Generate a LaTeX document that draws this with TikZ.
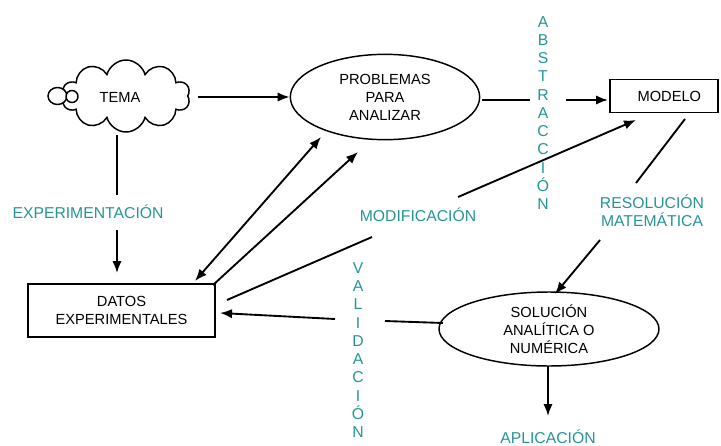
\documentclass[tikz,border=0pt]{standalone}
\usepackage{fontspec}
\setmainfont{Liberation Sans}
\usetikzlibrary{shapes.geometric,shapes.symbols,arrows.meta}
\definecolor{tealtxt}{RGB}{38,148,148}
\begin{document}
\begin{tikzpicture}[x=0.75pt,y=-0.75pt,
  every node/.style={font=\fontsize{11}{13.5}\selectfont,align=center},
  shp/.style={draw,line width=1.1pt},
  conn/.style={line width=1.4pt},
  arr/.style={conn,-{Latex[length=9pt,width=7pt]}},
  darr/.style={conn,{Latex[length=9pt,width=7pt]}-{Latex[length=9pt,width=7pt]}},
  lbl/.style={text=tealtxt,font=\fontsize{11.8}{13.5}\selectfont,inner sep=0pt},
  vlbl/.style={lbl,font=\fontsize{11.8}{13.7}\selectfont}]
\useasboundingbox (0,0) rectangle (721,446);

% nodes
\node[shp,cloud,cloud puffs=10,aspect=1.8,minimum width=96pt,minimum height=54pt] (tema) at (126,96) {};
\node (tematxt) at (120,97) {TEMA};
\draw[shp,fill=white] (57.5,96) ellipse (9.5 and 8.5);
\draw[shp,fill=white] (72,96.5) ellipse (6 and 6);
\node[shp,ellipse,minimum width=142pt,minimum height=64pt,inner sep=0pt] (prob) at (385,97) {PROBLEMAS\\PARA\\ANALIZAR};
\node[shp,rectangle,minimum width=81pt,minimum height=25pt] (modelo) at (664,96) {\hspace*{8pt}MODELO};
\node[shp,rectangle,minimum width=140pt,minimum height=40pt] (datos) at (121.5,310.5) {DATOS\\EXPERIMENTALES};
\node[shp,ellipse,minimum width=165pt,minimum height=55.5pt,inner sep=0pt] (sol) at (549,329) {SOLUCIÓN\\ANALÍTICA O\\NUMÉRICA};

% labels
\node[lbl] (lexp) at (88,212) {EXPERIMENTACIÓN};
\node[lbl] (lres) at (652,211) {RESOLUCIÓN\\MATEMÁTICA};
\node[lbl] (lmod) at (418,215) {MODIFICACIÓN};
\node[lbl] (lapl) at (548,437) {APLICACIÓN};
\node[vlbl] (labs) at (543,113) {A\\B\\S\\T\\R\\A\\C\\C\\I\\Ó\\N};
\node[vlbl] (lval) at (358,350) {V\\A\\L\\I\\D\\A\\C\\I\\Ó\\N};

% coordinates
\coordinate (t1) at (198,97);
\coordinate (e1) at (117,135);
\coordinate (e2) at (117,195);
\coordinate (e3) at (117,230);
\coordinate (e4) at (117,273);
\coordinate (a1) at (482,100);
\coordinate (a2) at (530,100);
\coordinate (a3) at (566,100);
\coordinate (a4) at (608,100);
\coordinate (r1) at (685,119);
\coordinate (r2) at (636,183);
\coordinate (r3) at (600,240);
\coordinate (r4) at (555,294);
\coordinate (p1) at (548,366);
\coordinate (p2) at (548,416);
\coordinate (v1) at (443,323);
\coordinate (v2) at (385,321);
\coordinate (v3) at (335,319);
\coordinate (v4) at (220,313);
\coordinate (d1) at (195,281);
\coordinate (d2) at (321,137);
\coordinate (d3) at (213,285);
\coordinate (d4) at (358,152);
\coordinate (m1) at (227,300);
\coordinate (m2) at (372,237);
\coordinate (m3) at (458,197);
\coordinate (m4) at (636,120);

% connectors
\draw[arr] (t1) -- (prob.west);
\draw[conn] (e1) -- (e2);
\draw[arr] (e3) -- (e4);
\draw[conn] (a1) -- (a2);
\draw[arr] (a3) -- (a4);
\draw[conn] (r1) -- (r2);
\draw[arr] (r3) -- (r4);
\draw[arr] (p1) -- (p2);
\draw[conn] (v1) -- (v2);
\draw[arr] (v3) -- (v4);
\draw[darr] (d1) -- (d2);
\draw[arr] (d3) -- (d4);
\draw[conn] (m1) -- (m2);
\draw[arr] (m3) -- (m4);
\end{tikzpicture}
\end{document}
